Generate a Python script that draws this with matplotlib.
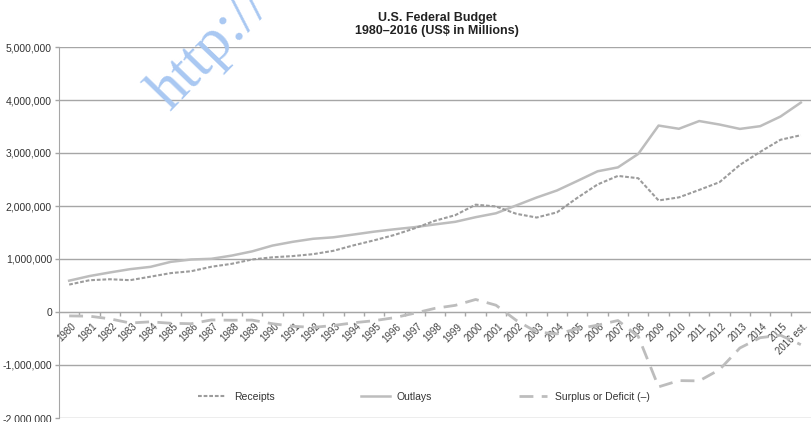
import numpy as np
import matplotlib.pyplot as plt
from matplotlib.ticker import FuncFormatter, FixedLocator
import matplotlib.transforms as mtransforms

plt.rcParams['font.family'] = ['Liberation Sans', 'DejaVu Sans']

years = [str(y) for y in range(1980, 2016)] + ["2016 est."]

# US$ millions
receipts = [517112, 599272, 617766, 600562, 666438, 734037, 769155, 854288,
            909238, 991104, 1031958, 1054988, 1091208, 1154334, 1258566,
            1351790, 1453053, 1579232, 1721728, 1827452, 2025191, 1991082,
            1853136, 1782314, 1880114, 2153611, 2406869, 2567985, 2523991,
            2104989, 2162706, 2303466, 2449988, 2775103, 3021487, 3249886,
            3335502]
outlays = [590941, 678241, 745743, 808364, 851805, 946344, 990382, 1004017,
           1064416, 1143744, 1252994, 1324226, 1381529, 1409386, 1461752,
           1515742, 1560484, 1601116, 1652458, 1701842, 1788950, 1862846,
           2010894, 2159899, 2292841, 2471957, 2655050, 2728686, 2982544,
           3517677, 3457079, 3603059, 3536951, 3454647, 3506114, 3688292,
           3951307]
surplus = [-73830, -78968, -127977, -207802, -185367, -212308, -221227,
           -149730, -155178, -152639, -221036, -269238, -290321, -255051,
           -203186, -163952, -107431, -21884, 69270, 125610, 236241, 128236,
           -157758, -377585, -412727, -318346, -248181, -160701, -458553,
           -1412688, -1294373, -1299593, -1086963, -679544, -484602, -438406,
           -615805]

x = np.arange(len(years))

fig = plt.figure(figsize=(8.11, 4.22), dpi=100)
ax = fig.add_axes([59 / 811, 1 - 418 / 422, 1 - 59 / 811, (418 - 47) / 422])

grey_line = "#a6a6a6"

ax.plot(x, outlays, color="#bdbdbd", lw=1.8, label="Outlays", zorder=3)
ax.plot(x, receipts, color="#9c9c9c", lw=1.5, dashes=(1.8, 0.9),
        label="Receipts", zorder=4)
ax.plot(x, surplus, color="#bdbdbd", lw=2.0, dashes=(5.0, 3.0),
        label="Surplus or Deficit (\u2013)", zorder=3)

ax.set_xlim(-0.5, len(years) - 0.5)
ax.set_ylim(-2000000, 5000000)
ax.set_yticks(np.arange(-2000000, 5000001, 1000000))
ax.yaxis.set_major_formatter(FuncFormatter(lambda v, p: f"{int(v):,}"))
ax.grid(axis="y", color=grey_line, lw=1.0, zorder=1)
ax.tick_params(axis="y", labelsize=7.5, colors=grey_line,
               length=3, width=1, pad=2)
for t in ax.get_yticklabels():
    t.set_color("#333333")

# category axis sits on the zero line
for side in ("top", "right"):
    ax.spines[side].set_visible(False)
ax.spines["left"].set_color(grey_line)
ax.spines["bottom"].set_position(("data", 0))
ax.spines["bottom"].set_color(grey_line)
ax.spines["bottom"].set_zorder(2)

ax.set_xticks(x)
ax.set_xticklabels(years)
ax.xaxis.set_minor_locator(FixedLocator(np.arange(0.5, len(years) - 0.5, 1)))
ax.tick_params(axis="x", which="major", length=0, pad=1, labelsize=7,
               labelcolor="#444444")
ax.tick_params(axis="x", which="minor", length=3, width=1, color=grey_line)
shift = mtransforms.ScaledTranslation(2 / 100, -8 / 100, fig.dpi_scale_trans)
for lbl in ax.get_xticklabels():
    lbl.set_rotation(45)
    lbl.set_ha("right")
    lbl.set_va("top")
    lbl.set_rotation_mode("anchor")
    lbl.set_transform(lbl.get_transform() + shift)

leg = ax.legend(handles=[ax.lines[1], ax.lines[0], ax.lines[2]],
                loc="center", bbox_to_anchor=(0.4853, 0.057), ncol=3,
                frameon=False, fontsize=7.5, handlelength=2.7,
                handletextpad=0.7, columnspacing=8.35)
for t in leg.get_texts():
    t.set_color("#333333")

fig.text(437 / 811, 1 - 24.5 / 422,
         "U.S. Federal Budget\n1980\u20132016 (US$ in Millions)",
         ha="center", va="center", fontsize=9, fontweight="bold",
         color="#222222", linespacing=1.1)

fig.text(170 / 811, 1 - 112 / 422, "http://", fontsize=44,
         family=["Liberation Serif", "DejaVu Serif"], color="#a9c8f2",
         rotation=46, rotation_mode="anchor", ha="left", va="baseline",
         zorder=10)

fig.savefig("out.png", dpi=100)
plt.close(fig)
